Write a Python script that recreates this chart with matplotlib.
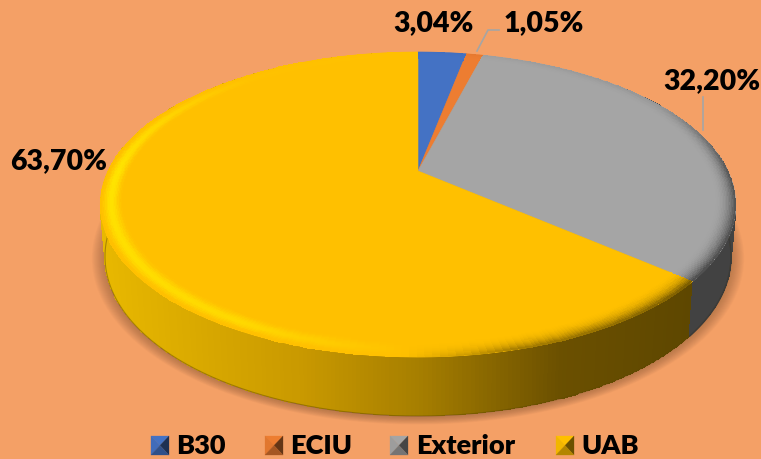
import numpy as np
import matplotlib
matplotlib.use("Agg")
import matplotlib.pyplot as plt
from matplotlib.colors import to_rgb
from matplotlib.patches import Polygon

categorias = ["B30", "ECIU", "Exterior", "UAB"]
valores = [3.04, 1.05, 32.20, 63.70]
colores = ["#4472C4", "#ED7D31", "#A5A5A5", "#FFC000"]
claros = ["#6F96E0", "#FF9F5F", "#C8C8C8", "#FFE400"]
fondo = "#F4A066"
fuente = "Lato"

# perspectiva del disco (pixeles)
XC, R, C = 418, 310, 0.2197
A, B = -107.4, 172


def punto(r, th):
    X, Y = r*np.sin(th), r*np.cos(th)
    d = C*Y + 1
    return XC + R*X/d, (A*Y + B)/d


def borde_abajo(th):
    x, y = punto(1, th)
    Y = np.cos(th)
    return XC + (x - XC)*0.985, y + 50 - 9*Y


def luz(th):
    g = np.degrees(th) % 360
    return np.interp(g, [0, 60, 90, 130, 165, 185, 210, 270, 295, 320, 360],
                     [-.03, -.15, -.8, -.9, -.6, .1, .7, 1, .55, .05, 0])


fig = plt.figure(figsize=(7.61, 4.6), dpi=100, facecolor=fondo)
ax = fig.add_axes([0, 0, 1, 1])
ax.set_xlim(0, 761)
ax.set_ylim(460, 0)
ax.axis("off")

fracs = np.array(valores)/sum(valores)
cortes = np.concatenate([[0], np.cumsum(fracs)])*2*np.pi

# sombra difusa bajo el disco
t = np.linspace(0, 2*np.pi, 240)
xs, ys = borde_abajo(t)
for k in range(14, 0, -1):
    f = 1 + k*0.003
    ax.add_patch(Polygon(np.c_[XC + (xs - XC)*f, 240 + (ys + 1 - 240)*f],
                         fc="#8A5A38", ec="none", alpha=0.045, zorder=1))

# lateral
t = np.linspace(np.radians(50), np.radians(360), 500)
xt, yt = punto(1, t)
xb, yb = borde_abajo(t)
mx = (xt[:-1] + xt[1:])/2
col = np.zeros((1, len(t) - 1, 3))
for i in range(3):
    puntos_x = [100, 300, 420, 560, 690]
    yellow = [to_rgb(c)[i] for c in ["#E8B800", "#C99900", "#A67E00", "#6B5000", "#5E4700"]]
    col[0, :, i] = np.interp(mx, puntos_x, yellow)
tm = (t[:-1] + t[1:])/2
gris = tm < cortes[3]
col[0, gris] = to_rgb("#424242")
ax.pcolormesh(np.array([xt, xb]), np.array([yt, yb]), col, zorder=2)
ax.plot(xb, yb, color="#5E4700", lw=0.8, alpha=0.45, zorder=2.1)
ax.plot(xb[t < cortes[3]], yb[t < cortes[3]], color="#3A3A3A", lw=1, zorder=2.2)

# porciones de arriba
for i in range(len(valores)):
    t = np.linspace(cortes[i], cortes[i + 1], 200)
    x, y = punto(1, t)
    pts = np.r_[[[XC, B]], np.c_[x, y]]
    ax.add_patch(Polygon(pts, fc=colores[i], ec=colores[i], lw=0.4, zorder=3))

    # bisel del borde
    rr = np.linspace(0.93, 1, 16)
    T, RR = np.meshgrid(t, rr)
    xm, ym = punto(RR, T)
    tc = (T[:-1, :-1] + T[1:, 1:])/2
    s = ((RR[:-1, :-1] + RR[1:, 1:])/2 - 0.93)/0.07
    L = luz(tc)
    base = np.array(to_rgb(colores[i]))
    claro = np.array(to_rgb(claros[i]))
    oscuro = base*0.38
    wl = np.clip(L, 0, 1)*np.sin(np.pi*s**1.1)**2
    wd = np.clip(-L, 0, 1)*s**2.5
    c = base + (claro - base)*wl[..., None] + (oscuro - base)*wd[..., None]
    ax.pcolormesh(xm, ym, c, zorder=4)

# etiquetas
etiquetas = [f"{v:.2f}%".replace(".", ",") for v in valores]
pos = [(393, 23), (504, 23), (663, 81), (10, 161)]
for e, (x, y) in zip(etiquetas, pos):
    ax.text(x, y, e, fontsize=20.5, fontweight="heavy", family=fuente,
            color="black", ha="left", va="center", zorder=6)

ax.plot([477, 488, 499], [52, 31, 31], color="#A5A5A5", lw=1.2, zorder=5)
ax.plot([703, 703], [98, 131], color="#A5A5A5", lw=1.2, zorder=5)

# leyenda
ley_x = [151, 265, 390, 556]
txt_x = [176, 290, 416, 581]
for i, n in enumerate(categorias):
    x0, x1, y0, y1 = ley_x[i], ley_x[i] + 18, 437, 456
    xc, yc = (x0 + x1)/2, (y0 + y1)/2
    b = np.array(to_rgb(colores[i]))
    caras = [([(x0, y0), (x1, y0), (xc, yc)], b),
             ([(x0, y0), (x0, y1), (xc, yc)], b*0.95),
             ([(x1, y0), (x1, y1), (xc, yc)], b*0.42),
             ([(x0, y1), (x1, y1), (xc, yc)], b*0.7)]
    for p, c in caras:
        ax.add_patch(Polygon(p, fc=c, ec=c, lw=0.2, zorder=5))
    ax.text(txt_x[i], 446, n, fontsize=19.5, fontweight="heavy", family=fuente,
            color="black", ha="left", va="center", zorder=6)

fig.savefig("out.png", dpi=100, facecolor=fondo)
